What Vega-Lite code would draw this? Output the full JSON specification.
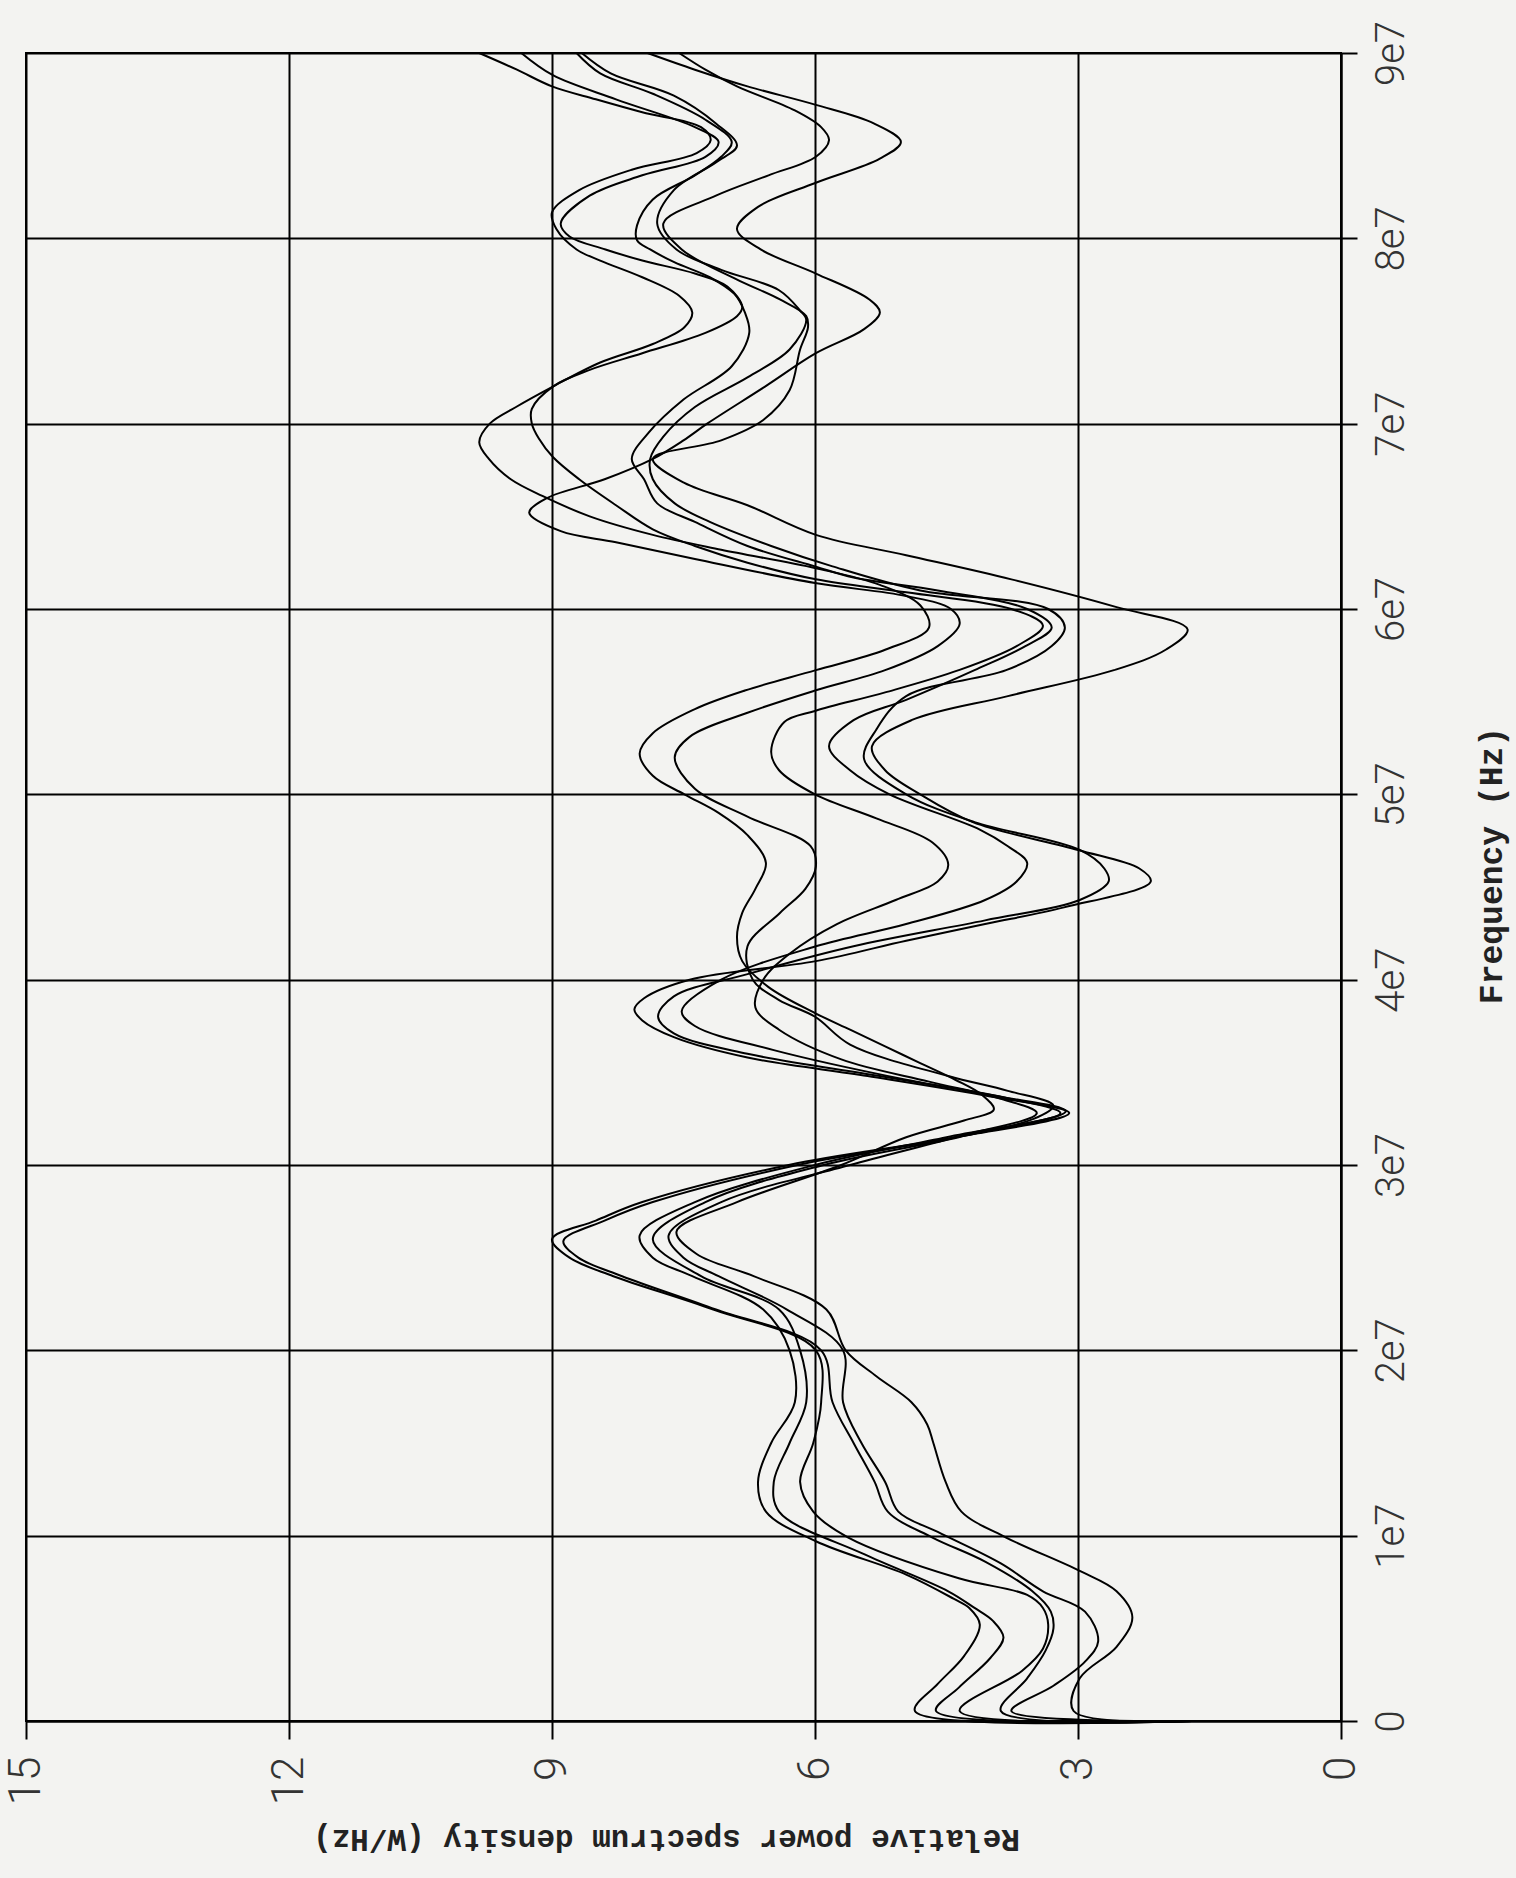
{
"$schema":"https://vega.github.io/schema/vega-lite/v6.json",
"width":1315,"height":1668,
"autosize":{"type":"none"},
"padding":{"left":26,"top":53,"right":175,"bottom":157},
"background":"#f3f3f1",
"config":{"view":{"stroke":"black","strokeWidth":2}},
"data":{"values":[
{"c":"K1","f":0,"p":1.7},{"c":"K1","f":0.054e7,"p":3.05},{"c":"K1","f":0.23e7,"p":2.98},{"c":"K1","f":0.4e7,"p":2.56},{"c":"K1","f":0.56e7,"p":2.38},{"c":"K1","f":0.7e7,"p":2.56},{"c":"K1","f":0.81e7,"p":2.98},{"c":"K1","f":0.99e7,"p":3.82},{"c":"K1","f":1.13e7,"p":4.33},{"c":"K1","f":1.29e7,"p":4.51},{"c":"K1","f":1.5e7,"p":4.65},{"c":"K1","f":1.6e7,"p":4.72},{"c":"K1","f":1.72e7,"p":4.9},{"c":"K1","f":1.86e7,"p":5.3},{"c":"K1","f":2.0e7,"p":5.65},{"c":"K1","f":2.22e7,"p":5.87},{"c":"K1","f":2.4e7,"p":6.7},{"c":"K1","f":2.52e7,"p":7.35},{"c":"K1","f":2.64e7,"p":7.58},{"c":"K1","f":2.8e7,"p":6.89},{"c":"K1","f":3.0e7,"p":5.7},{"c":"K1","f":3.15e7,"p":4.96},{"c":"K1","f":3.24e7,"p":4.3},{"c":"K1","f":3.3e7,"p":3.96},{"c":"K1","f":3.38e7,"p":4.1},{"c":"K1","f":3.46e7,"p":4.4},{"c":"K1","f":3.55e7,"p":4.8},{"c":"K1","f":3.64e7,"p":5.2},{"c":"K1","f":3.73e7,"p":5.6},{"c":"K1","f":3.82e7,"p":6.0},{"c":"K1","f":3.96e7,"p":6.53},{"c":"K1","f":4.1e7,"p":6.83},{"c":"K1","f":4.23e7,"p":6.89},{"c":"K1","f":4.36e7,"p":6.83},{"c":"K1","f":4.49e7,"p":6.68},{"c":"K1","f":4.63e7,"p":6.56},{"c":"K1","f":4.78e7,"p":6.77},{"c":"K1","f":4.9e7,"p":7.1},{"c":"K1","f":5.0e7,"p":7.49},{"c":"K1","f":5.1e7,"p":7.85},{"c":"K1","f":5.22e7,"p":8.0},{"c":"K1","f":5.33e7,"p":7.85},{"c":"K1","f":5.46e7,"p":7.37},{"c":"K1","f":5.56e7,"p":6.8},{"c":"K1","f":5.67e7,"p":5.99},{"c":"K1","f":5.78e7,"p":5.2},{"c":"K1","f":5.9e7,"p":4.7},{"c":"K1","f":6.02e7,"p":4.8},{"c":"K1","f":6.13e7,"p":5.26},{"c":"K1","f":6.22e7,"p":5.99},{"c":"K1","f":6.32e7,"p":7.07},{"c":"K1","f":6.4e7,"p":7.85},{"c":"K1","f":6.5e7,"p":8.57},{"c":"K1","f":6.61e7,"p":9.11},{"c":"K1","f":6.7e7,"p":9.47},{"c":"K1","f":6.81e7,"p":9.72},{"c":"K1","f":6.9e7,"p":9.83},{"c":"K1","f":7.0e7,"p":9.71},{"c":"K1","f":7.09e7,"p":9.41},{"c":"K1","f":7.2e7,"p":8.99},{"c":"K1","f":7.33e7,"p":8.45},{"c":"K1","f":7.43e7,"p":7.85},{"c":"K1","f":7.52e7,"p":7.49},{"c":"K1","f":7.6e7,"p":7.4},{"c":"K1","f":7.69e7,"p":7.55},{"c":"K1","f":7.79e7,"p":7.97},{"c":"K1","f":7.88e7,"p":8.45},{"c":"K1","f":7.94e7,"p":8.72},{"c":"K1","f":8.05e7,"p":8.95},{"c":"K1","f":8.14e7,"p":9.0},{"c":"K1","f":8.26e7,"p":8.69},{"c":"K1","f":8.37e7,"p":8.09},{"c":"K1","f":8.46e7,"p":7.35},{"c":"K1","f":8.53e7,"p":7.19},{"c":"K1","f":8.6e7,"p":7.3},{"c":"K1","f":8.68e7,"p":7.97},{"c":"K1","f":8.75e7,"p":8.5},{"c":"K1","f":8.82e7,"p":9.0},{"c":"K1","f":8.91e7,"p":9.4},{"c":"K1","f":9.0e7,"p":9.83},
{"c":"K2","f":0,"p":1.7},{"c":"K2","f":0.054e7,"p":3.76},{"c":"K2","f":0.19e7,"p":3.28},{"c":"K2","f":0.32e7,"p":2.92},{"c":"K2","f":0.43e7,"p":2.77},{"c":"K2","f":0.59e7,"p":2.92},{"c":"K2","f":0.7e7,"p":3.4},{"c":"K2","f":0.85e7,"p":3.88},{"c":"K2","f":1.02e7,"p":4.6},{"c":"K2","f":1.13e7,"p":5.05},{"c":"K2","f":1.29e7,"p":5.2},{"c":"K2","f":1.5e7,"p":5.47},{"c":"K2","f":1.72e7,"p":5.68},{"c":"K2","f":2.0e7,"p":5.68},{"c":"K2","f":2.22e7,"p":6.32},{"c":"K2","f":2.4e7,"p":7.1},{"c":"K2","f":2.5e7,"p":7.5},{"c":"K2","f":2.62e7,"p":7.67},{"c":"K2","f":2.8e7,"p":7.07},{"c":"K2","f":3.0e7,"p":5.6},{"c":"K2","f":3.15e7,"p":4.4},{"c":"K2","f":3.28e7,"p":3.47},{"c":"K2","f":3.36e7,"p":3.9},{"c":"K2","f":3.45e7,"p":4.7},{"c":"K2","f":3.57e7,"p":5.7},{"c":"K2","f":3.73e7,"p":6.41},{"c":"K2","f":3.85e7,"p":6.68},{"c":"K2","f":4.0e7,"p":6.59},{"c":"K2","f":4.14e7,"p":6.29},{"c":"K2","f":4.3e7,"p":5.75},{"c":"K2","f":4.43e7,"p":5.08},{"c":"K2","f":4.53e7,"p":4.6},{"c":"K2","f":4.62e7,"p":4.48},{"c":"K2","f":4.74e7,"p":4.66},{"c":"K2","f":4.87e7,"p":5.3},{"c":"K2","f":5.0e7,"p":6.0},{"c":"K2","f":5.13e7,"p":6.41},{"c":"K2","f":5.23e7,"p":6.5},{"c":"K2","f":5.39e7,"p":6.35},{"c":"K2","f":5.45e7,"p":6.0},{"c":"K2","f":5.55e7,"p":5.2},{"c":"K2","f":5.67e7,"p":4.36},{"c":"K2","f":5.8e7,"p":3.7},{"c":"K2","f":5.91e7,"p":3.4},{"c":"K2","f":6.0e7,"p":3.76},{"c":"K2","f":6.09e7,"p":4.96},{"c":"K2","f":6.16e7,"p":5.99},{"c":"K2","f":6.25e7,"p":6.77},{"c":"K2","f":6.34e7,"p":7.37},{"c":"K2","f":6.43e7,"p":7.85},{"c":"K2","f":6.56e7,"p":8.27},{"c":"K2","f":6.7e7,"p":8.69},{"c":"K2","f":6.82e7,"p":8.99},{"c":"K2","f":6.92e7,"p":9.15},{"c":"K2","f":7.0e7,"p":9.23},{"c":"K2","f":7.08e7,"p":9.23},{"c":"K2","f":7.2e7,"p":8.99},{"c":"K2","f":7.29e7,"p":8.57},{"c":"K2","f":7.38e7,"p":7.97},{"c":"K2","f":7.49e7,"p":7.25},{"c":"K2","f":7.58e7,"p":6.89},{"c":"K2","f":7.63e7,"p":6.83},{"c":"K2","f":7.74e7,"p":7.0},{"c":"K2","f":7.81e7,"p":7.37},{"c":"K2","f":7.88e7,"p":7.97},{"c":"K2","f":7.94e7,"p":8.39},{"c":"K2","f":8.01e7,"p":8.8},{"c":"K2","f":8.08e7,"p":8.9},{"c":"K2","f":8.23e7,"p":8.57},{"c":"K2","f":8.34e7,"p":7.97},{"c":"K2","f":8.44e7,"p":7.25},{"c":"K2","f":8.52e7,"p":7.1},{"c":"K2","f":8.6e7,"p":7.37},{"c":"K2","f":8.75e7,"p":8.27},{"c":"K2","f":8.88e7,"p":8.99},{"c":"K2","f":9.0e7,"p":9.35},
{"c":"K3","f":0,"p":1.7},{"c":"K3","f":0.054e7,"p":4.86},{"c":"K3","f":0.2e7,"p":4.6},{"c":"K3","f":0.35e7,"p":4.3},{"c":"K3","f":0.52e7,"p":4.12},{"c":"K3","f":0.61e7,"p":4.24},{"c":"K3","f":0.66e7,"p":4.42},{"c":"K3","f":0.79e7,"p":4.96},{"c":"K3","f":0.97e7,"p":5.99},{"c":"K3","f":1.13e7,"p":6.56},{"c":"K3","f":1.29e7,"p":6.65},{"c":"K3","f":1.5e7,"p":6.5},{"c":"K3","f":1.72e7,"p":6.23},{"c":"K3","f":2.0e7,"p":6.29},{"c":"K3","f":2.22e7,"p":6.59},{"c":"K3","f":2.4e7,"p":7.4},{"c":"K3","f":2.5e7,"p":7.85},{"c":"K3","f":2.62e7,"p":8.0},{"c":"K3","f":2.8e7,"p":7.37},{"c":"K3","f":3.0e7,"p":6.0},{"c":"K3","f":3.15e7,"p":4.5},{"c":"K3","f":3.28e7,"p":3.2},{"c":"K3","f":3.36e7,"p":3.8},{"c":"K3","f":3.46e7,"p":4.96},{"c":"K3","f":3.62e7,"p":6.47},{"c":"K3","f":3.75e7,"p":7.37},{"c":"K3","f":3.83e7,"p":7.52},{"c":"K3","f":4.0e7,"p":7.07},{"c":"K3","f":4.18e7,"p":5.99},{"c":"K3","f":4.3e7,"p":4.96},{"c":"K3","f":4.43e7,"p":4.06},{"c":"K3","f":4.53e7,"p":3.7},{"c":"K3","f":4.63e7,"p":3.58},{"c":"K3","f":4.72e7,"p":3.8},{"c":"K3","f":4.81e7,"p":4.12},{"c":"K3","f":5.0e7,"p":5.15},{"c":"K3","f":5.13e7,"p":5.6},{"c":"K3","f":5.26e7,"p":5.84},{"c":"K3","f":5.4e7,"p":5.56},{"c":"K3","f":5.51e7,"p":4.96},{"c":"K3","f":5.67e7,"p":4.18},{"c":"K3","f":5.8e7,"p":3.6},{"c":"K3","f":5.9e7,"p":3.3},{"c":"K3","f":6.0e7,"p":3.58},{"c":"K3","f":6.1e7,"p":4.6},{"c":"K3","f":6.17e7,"p":5.56},{"c":"K3","f":6.23e7,"p":6.0},{"c":"K3","f":6.34e7,"p":6.77},{"c":"K3","f":6.47e7,"p":7.37},{"c":"K3","f":6.57e7,"p":7.8},{"c":"K3","f":6.7e7,"p":7.95},{"c":"K3","f":6.81e7,"p":8.09},{"c":"K3","f":6.95e7,"p":7.9},{"c":"K3","f":7.13e7,"p":7.5},{"c":"K3","f":7.31e7,"p":6.95},{"c":"K3","f":7.49e7,"p":6.75},{"c":"K3","f":7.6e7,"p":6.8},{"c":"K3","f":7.7e7,"p":6.92},{"c":"K3","f":7.79e7,"p":7.2},{"c":"K3","f":7.87e7,"p":7.6},{"c":"K3","f":7.94e7,"p":7.88},{"c":"K3","f":7.99e7,"p":8.03},{"c":"K3","f":8.07e7,"p":8.03},{"c":"K3","f":8.21e7,"p":7.85},{"c":"K3","f":8.34e7,"p":7.37},{"c":"K3","f":8.44e7,"p":7.07},{"c":"K3","f":8.52e7,"p":6.95},{"c":"K3","f":8.64e7,"p":7.25},{"c":"K3","f":8.78e7,"p":7.85},{"c":"K3","f":8.89e7,"p":8.45},{"c":"K3","f":9.0e7,"p":8.72},
{"c":"K4","f":0,"p":1.7},{"c":"K4","f":0.054e7,"p":3.88},{"c":"K4","f":0.23e7,"p":3.58},{"c":"K4","f":0.38e7,"p":3.37},{"c":"K4","f":0.5e7,"p":3.28},{"c":"K4","f":0.59e7,"p":3.31},{"c":"K4","f":0.7e7,"p":3.52},{"c":"K4","f":0.86e7,"p":4.06},{"c":"K4","f":0.99e7,"p":4.66},{"c":"K4","f":1.13e7,"p":5.17},{"c":"K4","f":1.29e7,"p":5.32},{"c":"K4","f":1.5e7,"p":5.56},{"c":"K4","f":1.72e7,"p":5.8},{"c":"K4","f":2.0e7,"p":5.93},{"c":"K4","f":2.22e7,"p":7.13},{"c":"K4","f":2.4e7,"p":8.2},{"c":"K4","f":2.5e7,"p":8.7},{"c":"K4","f":2.59e7,"p":8.87},{"c":"K4","f":2.7e7,"p":8.4},{"c":"K4","f":2.8e7,"p":7.85},{"c":"K4","f":3.0e7,"p":6.2},{"c":"K4","f":3.15e7,"p":4.4},{"c":"K4","f":3.29e7,"p":3.14},{"c":"K4","f":3.37e7,"p":3.9},{"c":"K4","f":3.48e7,"p":5.26},{"c":"K4","f":3.6e7,"p":6.77},{"c":"K4","f":3.71e7,"p":7.61},{"c":"K4","f":3.8e7,"p":7.79},{"c":"K4","f":3.91e7,"p":7.61},{"c":"K4","f":4.03e7,"p":6.77},{"c":"K4","f":4.18e7,"p":5.56},{"c":"K4","f":4.32e7,"p":4.06},{"c":"K4","f":4.43e7,"p":2.98},{"c":"K4","f":4.53e7,"p":2.65},{"c":"K4","f":4.6e7,"p":2.7},{"c":"K4","f":4.7e7,"p":2.98},{"c":"K4","f":4.85e7,"p":4.18},{"c":"K4","f":5.0e7,"p":4.96},{"c":"K4","f":5.19e7,"p":5.44},{"c":"K4","f":5.35e7,"p":5.3},{"c":"K4","f":5.53e7,"p":4.96},{"c":"K4","f":5.67e7,"p":3.82},{"c":"K4","f":5.8e7,"p":3.3},{"c":"K4","f":5.9e7,"p":3.15},{"c":"K4","f":6.0e7,"p":3.34},{"c":"K4","f":6.1e7,"p":4.8},{"c":"K4","f":6.23e7,"p":5.8},{"c":"K4","f":6.34e7,"p":6.5},{"c":"K4","f":6.47e7,"p":7.2},{"c":"K4","f":6.57e7,"p":7.6},{"c":"K4","f":6.7e7,"p":7.85},{"c":"K4","f":6.81e7,"p":7.88},{"c":"K4","f":6.93e7,"p":7.73},{"c":"K4","f":7.09e7,"p":7.37},{"c":"K4","f":7.25e7,"p":6.77},{"c":"K4","f":7.4e7,"p":6.29},{"c":"K4","f":7.56e7,"p":6.1},{"c":"K4","f":7.61e7,"p":6.17},{"c":"K4","f":7.72e7,"p":6.41},{"c":"K4","f":7.83e7,"p":7.07},{"c":"K4","f":7.94e7,"p":7.58},{"c":"K4","f":8.08e7,"p":7.8},{"c":"K4","f":8.26e7,"p":7.61},{"c":"K4","f":8.41e7,"p":7.13},{"c":"K4","f":8.5e7,"p":6.89},{"c":"K4","f":8.62e7,"p":7.13},{"c":"K4","f":8.77e7,"p":7.61},{"c":"K4","f":8.89e7,"p":8.33},{"c":"K4","f":9.0e7,"p":8.66},
{"c":"K5","f":0,"p":1.7},{"c":"K5","f":0.054e7,"p":4.62},{"c":"K5","f":0.18e7,"p":4.36},{"c":"K5","f":0.34e7,"p":4.0},{"c":"K5","f":0.45e7,"p":3.85},{"c":"K5","f":0.54e7,"p":3.97},{"c":"K5","f":0.61e7,"p":4.18},{"c":"K5","f":0.7e7,"p":4.48},{"c":"K5","f":0.9e7,"p":5.44},{"c":"K5","f":1.13e7,"p":6.41},{"c":"K5","f":1.29e7,"p":6.47},{"c":"K5","f":1.5e7,"p":6.29},{"c":"K5","f":1.72e7,"p":6.1},{"c":"K5","f":2.0e7,"p":6.17},{"c":"K5","f":2.22e7,"p":6.41},{"c":"K5","f":2.4e7,"p":7.3},{"c":"K5","f":2.6e7,"p":7.85},{"c":"K5","f":2.8e7,"p":7.25},{"c":"K5","f":3.0e7,"p":5.9},{"c":"K5","f":3.15e7,"p":4.36},{"c":"K5","f":3.25e7,"p":3.5},{"c":"K5","f":3.32e7,"p":3.28},{"c":"K5","f":3.4e7,"p":3.8},{"c":"K5","f":3.48e7,"p":4.48},{"c":"K5","f":3.65e7,"p":5.6},{"c":"K5","f":3.8e7,"p":6.0},{"c":"K5","f":3.89e7,"p":6.41},{"c":"K5","f":4.0e7,"p":6.71},{"c":"K5","f":4.18e7,"p":6.77},{"c":"K5","f":4.36e7,"p":6.4},{"c":"K5","f":4.49e7,"p":6.11},{"c":"K5","f":4.61e7,"p":5.99},{"c":"K5","f":4.72e7,"p":6.05},{"c":"K5","f":4.88e7,"p":6.77},{"c":"K5","f":5.03e7,"p":7.37},{"c":"K5","f":5.2e7,"p":7.6},{"c":"K5","f":5.31e7,"p":7.43},{"c":"K5","f":5.44e7,"p":6.77},{"c":"K5","f":5.56e7,"p":6.0},{"c":"K5","f":5.67e7,"p":5.2},{"c":"K5","f":5.8e7,"p":4.6},{"c":"K5","f":5.92e7,"p":4.35},{"c":"K5","f":6.0e7,"p":4.45},{"c":"K5","f":6.07e7,"p":4.96},{"c":"K5","f":6.14e7,"p":6.0},{"c":"K5","f":6.27e7,"p":7.37},{"c":"K5","f":6.36e7,"p":8.27},{"c":"K5","f":6.42e7,"p":8.9},{"c":"K5","f":6.52e7,"p":9.26},{"c":"K5","f":6.6e7,"p":9.05},{"c":"K5","f":6.7e7,"p":8.4},{"c":"K5","f":6.81e7,"p":7.85},{"c":"K5","f":6.91e7,"p":7.5},{"c":"K5","f":7.0e7,"p":7.23},{"c":"K5","f":7.2e7,"p":6.57},{"c":"K5","f":7.38e7,"p":5.99},{"c":"K5","f":7.51e7,"p":5.44},{"c":"K5","f":7.6e7,"p":5.26},{"c":"K5","f":7.67e7,"p":5.38},{"c":"K5","f":7.81e7,"p":5.99},{"c":"K5","f":7.94e7,"p":6.62},{"c":"K5","f":8.05e7,"p":6.89},{"c":"K5","f":8.17e7,"p":6.65},{"c":"K5","f":8.3e7,"p":5.99},{"c":"K5","f":8.43e7,"p":5.26},{"c":"K5","f":8.52e7,"p":5.02},{"c":"K5","f":8.62e7,"p":5.33},{"c":"K5","f":8.72e7,"p":5.99},{"c":"K5","f":8.82e7,"p":6.77},{"c":"K5","f":8.91e7,"p":7.37},{"c":"K5","f":9.0e7,"p":7.91},
{"c":"K6","f":0,"p":1.7},{"c":"K6","f":0.054e7,"p":4.35},{"c":"K6","f":0.27e7,"p":3.64},{"c":"K6","f":0.39e7,"p":3.4},{"c":"K6","f":0.52e7,"p":3.34},{"c":"K6","f":0.61e7,"p":3.4},{"c":"K6","f":0.68e7,"p":3.58},{"c":"K6","f":0.77e7,"p":4.36},{"c":"K6","f":0.99e7,"p":5.62},{"c":"K6","f":1.13e7,"p":6.02},{"c":"K6","f":1.29e7,"p":6.17},{"c":"K6","f":1.5e7,"p":6.02},{"c":"K6","f":1.72e7,"p":5.93},{"c":"K6","f":2.0e7,"p":5.99},{"c":"K6","f":2.22e7,"p":7.16},{"c":"K6","f":2.4e7,"p":8.3},{"c":"K6","f":2.5e7,"p":8.8},{"c":"K6","f":2.6e7,"p":9.0},{"c":"K6","f":2.7e7,"p":8.5},{"c":"K6","f":2.8e7,"p":7.97},{"c":"K6","f":3.0e7,"p":6.3},{"c":"K6","f":3.15e7,"p":4.4},{"c":"K6","f":3.28e7,"p":3.1},{"c":"K6","f":3.37e7,"p":4.0},{"c":"K6","f":3.48e7,"p":5.4},{"c":"K6","f":3.58e7,"p":6.77},{"c":"K6","f":3.69e7,"p":7.61},{"c":"K6","f":3.78e7,"p":7.97},{"c":"K6","f":3.84e7,"p":8.06},{"c":"K6","f":3.9e7,"p":7.95},{"c":"K6","f":4.0e7,"p":7.43},{"c":"K6","f":4.1e7,"p":5.99},{"c":"K6","f":4.21e7,"p":4.96},{"c":"K6","f":4.3e7,"p":4.06},{"c":"K6","f":4.39e7,"p":3.16},{"c":"K6","f":4.53e7,"p":2.17},{"c":"K6","f":4.6e7,"p":2.3},{"c":"K6","f":4.7e7,"p":3.0},{"c":"K6","f":4.85e7,"p":4.2},{"c":"K6","f":5.0e7,"p":4.8},{"c":"K6","f":5.13e7,"p":5.2},{"c":"K6","f":5.26e7,"p":5.35},{"c":"K6","f":5.4e7,"p":4.9},{"c":"K6","f":5.53e7,"p":3.8},{"c":"K6","f":5.67e7,"p":2.59},{"c":"K6","f":5.78e7,"p":2.0},{"c":"K6","f":5.89e7,"p":1.75},{"c":"K6","f":6.01e7,"p":2.56},{"c":"K6","f":6.16e7,"p":3.76},{"c":"K6","f":6.29e7,"p":4.96},{"c":"K6","f":6.4e7,"p":5.99},{"c":"K6","f":6.56e7,"p":6.77},{"c":"K6","f":6.68e7,"p":7.49},{"c":"K6","f":6.81e7,"p":7.85},{"c":"K6","f":6.91e7,"p":7.07},{"c":"K6","f":7.02e7,"p":6.59},{"c":"K6","f":7.18e7,"p":6.29},{"c":"K6","f":7.4e7,"p":6.17},{"c":"K6","f":7.52e7,"p":6.08},{"c":"K6","f":7.58e7,"p":6.1},{"c":"K6","f":7.67e7,"p":6.4},{"c":"K6","f":7.78e7,"p":6.9},{"c":"K6","f":7.94e7,"p":7.52},{"c":"K6","f":8.08e7,"p":7.73},{"c":"K6","f":8.23e7,"p":7.13},{"c":"K6","f":8.34e7,"p":6.53},{"c":"K6","f":8.44e7,"p":5.99},{"c":"K6","f":8.53e7,"p":5.84},{"c":"K6","f":8.6e7,"p":5.93},{"c":"K6","f":8.69e7,"p":6.23},{"c":"K6","f":8.82e7,"p":6.89},{"c":"K6","f":8.91e7,"p":7.25},{"c":"K6","f":9.0e7,"p":7.55}
]},
"mark":{"type":"line","color":"black","strokeWidth":2,"interpolate":"catmull-rom"},
"encoding":{
"x":{"field":"p","type":"quantitative","scale":{"domain":[0,15],"reverse":true,"nice":false,"zero":false},
"axis":{"orient":"bottom","values":[0,3,6,9,12,15],"title":"Relative power spectrum density (W/Hz)","titleAngle":180,"titleFont":"Liberation Mono","titleFontWeight":"bold","titleFontSize":31,"titleColor":"#222222","titleX":640,"titleY":117,"titleAlign":"center","titleBaseline":"middle","labelAngle":270,"labelAlign":"right","labelBaseline":"middle","labelFont":"Roboto","labelFontWeight":300,"labelFontSize":44,"labelColor":"#333333","labelPadding":17,"labelFlush":false,"labelOverlap":false,"tickSize":18,"tickColor":"black","tickWidth":2,"domainColor":"black","domainWidth":2,"grid":true,"gridColor":"black","gridWidth":2,"gridOpacity":1}},
"y":{"field":"f","type":"quantitative","scale":{"domain":[0,90000000],"nice":false,"zero":false},
"axis":{"orient":"right","values":[0,10000000,20000000,30000000,40000000,50000000,60000000,70000000,80000000,90000000],"labelExpr":"datum.value == 0 ? '0' : round(datum.value / 10000000) + 'e7'","title":"Frequency (Hz)","titleAngle":270,"titleFont":"Liberation Mono","titleFontWeight":"bold","titleFontSize":33,"titleColor":"#222222","titleX":150,"titleY":812,"titleAlign":"center","titleBaseline":"middle","labelAngle":270,"labelAlign":"center","labelBaseline":"top","labelFont":"Roboto","labelFontWeight":300,"labelFontSize":40,"labelColor":"#333333","labelPadding":14,"labelFlush":false,"labelOverlap":false,"tickSize":16,"tickColor":"black","tickWidth":2,"domainColor":"black","domainWidth":2,"grid":true,"gridColor":"black","gridWidth":2,"gridOpacity":1}},
"detail":{"field":"c"},
"order":{"field":"f","type":"quantitative"}
}
}
